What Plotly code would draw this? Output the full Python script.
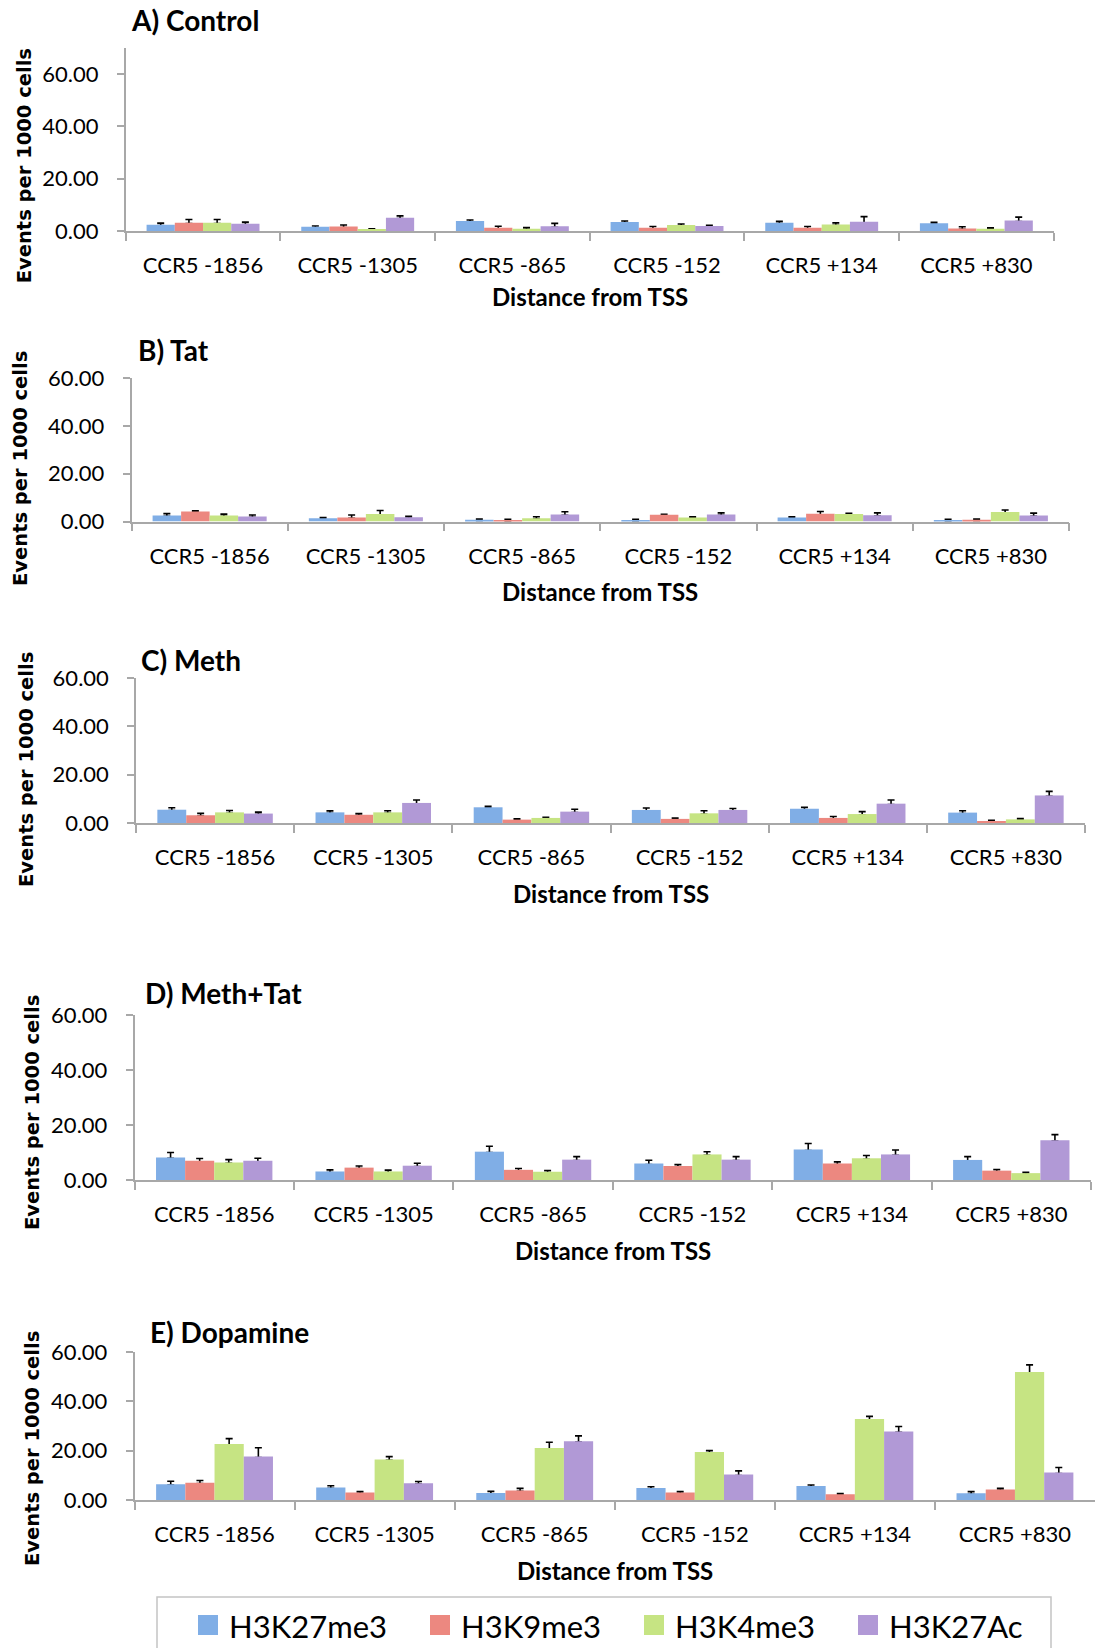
import plotly.graph_objects as go

# ---------------- data ----------------
categories = ["CCR5 -1856", "CCR5 -1305", "CCR5 -865", "CCR5 -152", "CCR5 +134", "CCR5 +830"]
series_names = ["H3K27me3", "H3K9me3", "H3K4me3", "H3K27Ac"]
panel_titles = ["A) Control", "B) Tat", "C) Meth", "D) Meth+Tat", "E) Dopamine"]
y_tick_values = [0, 20, 40, 60]

# values per panel: one list per series (H3K27me3, H3K9me3, H3K4me3, H3K27Ac)
control_values = [
    [2.4, 1.6, 3.8, 3.4, 3.2, 3.0],
    [3.2, 1.7, 1.2, 1.2, 1.2, 1.0],
    [3.2, 0.5, 0.9, 2.3, 2.5, 0.9],
    [2.8, 5.1, 1.8, 1.9, 3.5, 4.0],
]
control_errors = [
    [0.6, 0.3, 0.4, 0.4, 0.5, 0.3],
    [1.2, 0.6, 0.6, 0.5, 0.5, 0.6],
    [1.2, 0.3, 0.4, 0.4, 0.6, 0.3],
    [0.6, 0.7, 1.1, 0.3, 2.0, 1.3],
]
tat_values = [
    [2.5, 1.4, 0.7, 0.6, 1.7, 0.6],
    [4.2, 1.7, 0.6, 2.8, 3.2, 0.7],
    [2.5, 3.1, 1.4, 1.7, 3.1, 4.0],
    [2.1, 1.8, 2.9, 2.9, 2.6, 2.5],
]
tat_errors = [
    [0.8, 0.3, 0.3, 0.3, 0.3, 0.3],
    [0.3, 1.0, 0.3, 0.2, 1.0, 0.3],
    [0.6, 1.5, 0.6, 0.3, 0.3, 0.8],
    [0.6, 0.4, 1.2, 0.7, 1.0, 1.0],
]
meth_values = [
    [5.5, 4.4, 6.5, 5.4, 5.9, 4.3],
    [3.2, 3.4, 1.4, 1.7, 2.1, 0.8],
    [4.4, 4.4, 2.1, 4.0, 3.7, 1.5],
    [3.9, 8.3, 4.7, 5.4, 8.0, 11.4],
]
meth_errors = [
    [0.8, 0.6, 0.4, 0.8, 0.6, 0.8],
    [0.8, 0.5, 0.3, 0.3, 0.6, 0.3],
    [0.8, 0.7, 0.3, 1.1, 1.0, 0.3],
    [0.6, 1.2, 1.0, 0.6, 1.5, 1.7],
]
methtat_values = [
    [8.2, 3.1, 10.3, 6.0, 11.1, 7.3],
    [7.0, 4.5, 3.7, 5.1, 6.0, 3.4],
    [6.4, 3.1, 3.0, 9.3, 7.9, 2.5],
    [7.0, 5.2, 7.4, 7.4, 9.3, 14.5],
]
methtat_errors = [
    [1.8, 0.6, 2.0, 1.2, 2.2, 1.2],
    [0.8, 0.6, 0.5, 0.5, 0.6, 0.4],
    [1.0, 0.5, 0.4, 1.0, 1.0, 0.3],
    [0.9, 0.9, 1.1, 1.1, 1.6, 2.0],
]
dopamine_values = [
    [6.4, 5.1, 2.8, 4.9, 5.7, 2.7],
    [7.0, 3.0, 3.9, 3.0, 2.3, 4.3],
    [22.7, 16.4, 21.1, 19.5, 32.8, 51.9],
    [17.6, 6.8, 23.8, 10.3, 27.8, 11.1],
]
dopamine_errors = [
    [1.2, 0.7, 0.7, 0.5, 0.4, 0.7],
    [0.9, 0.4, 0.8, 0.4, 0.3, 0.4],
    [2.2, 1.2, 2.3, 0.5, 1.1, 2.9],
    [3.6, 0.7, 2.2, 1.5, 2.0, 2.1],
]
y_max = [70, 60, 60, 60, 60]

# ---------------- layout geometry (pixels) ----------------
W, H = 1106, 1648
colors = ["#80AEE6", "#EC8880", "#C6E483", "#B199D6"]
# plot area: left, right, top(value y_max), bottom(value 0)
areas = [
    (125.7, 1053.7, 48, 231),
    (131.5, 1069, 378, 521.5),
    (136, 1085, 678, 823),
    (134.5, 1091, 1015, 1180),
    (134.5, 1095, 1352, 1500),
]
title_pos = [(129, 20), (136, 350), (139, 660), (143, 993), (148, 1332)]
ytitle_pos = [(24.7, 165.6), (21, 469), (27, 770), (32, 1113), (32, 1449)]
xtitle_y = [296.7, 591.7, 893.3, 1250, 1570]

FONT = "Lato, 'Open Sans', sans-serif"
AXIS_COLOR = "#A8A8A8"
# the lower cap of the one-sided error bar is tucked just inside the bar
# (then covered by the bar drawn on top), so only the upper whisker shows
CAP_TUCK = 0.35


def px(x):
    return x / W


def py(y):
    return 1 - y / H


panels_values = [control_values, tat_values, meth_values, methtat_values, dopamine_values]
panels_errors = [control_errors, tat_errors, meth_errors, methtat_errors, dopamine_errors]

fig = go.Figure()
annotations = []
shapes = []
layout_axes = {}

for p in range(5):
    sfx = "" if p == 0 else str(p + 1)
    xa, ya = "x" + sfx, "y" + sfx
    # error whiskers (drawn first, underneath the bars)
    for s in range(4):
        fig.add_trace(go.Bar(
            x=categories,
            y=panels_values[p][s],
            name=series_names[s] + " error",
            offsetgroup=str(s),
            marker=dict(color="rgba(0,0,0,0)", line=dict(width=0)),
            error_y=dict(type="data", array=panels_errors[p][s],
                         arrayminus=[CAP_TUCK] * len(categories), symmetric=False,
                         color="black", thickness=1.6, width=3.5),
            xaxis=xa, yaxis=ya, showlegend=False, hoverinfo="skip",
        ))
    # visible bars
    for s in range(4):
        fig.add_trace(go.Bar(
            x=categories,
            y=panels_values[p][s],
            name=series_names[s],
            offsetgroup=str(s),
            marker=dict(color=colors[s], line=dict(width=0)),
            xaxis=xa, yaxis=ya, showlegend=False,
        ))
    l, r, t, b = areas[p]
    layout_axes["xaxis" + sfx] = dict(
        domain=[px(l), px(r)], anchor=ya, type="category",
        tickson="boundaries", ticks="outside", ticklen=8, tickwidth=1.5,
        tickcolor=AXIS_COLOR, showline=True, linecolor=AXIS_COLOR, linewidth=1.5,
        showgrid=False, zeroline=False, ticklabelstandoff=14,
        tickfont=dict(family=FONT, size=22, color="black"),
        range=[-0.5, 5.5], fixedrange=True,
    )
    layout_axes["yaxis" + sfx] = dict(
        domain=[py(b), py(t)], anchor=xa, range=[0, y_max[p]],
        tickvals=y_tick_values, tickformat=".2f",
        ticks="outside", ticklen=7, tickwidth=1.5, tickcolor=AXIS_COLOR,
        showline=True, linecolor=AXIS_COLOR, linewidth=1.5,
        showgrid=False, zeroline=False, ticklabelstandoff=14,
        tickfont=dict(family=FONT, size=22, color="black"), fixedrange=True,
    )
    annotations.append(dict(
        text="<b>" + panel_titles[p] + "</b>", x=px(title_pos[p][0]), y=py(title_pos[p][1]),
        xref="paper", yref="paper", xanchor="left", yanchor="middle", showarrow=False,
        font=dict(family=FONT, size=28, color="black"),
    ))
    annotations.append(dict(
        text="<b>Events per 1000 cells</b>", x=px(ytitle_pos[p][0]), y=py(ytitle_pos[p][1]),
        xref="paper", yref="paper", xanchor="center", yanchor="middle", showarrow=False,
        textangle=-90, font=dict(family="DejaVu Sans", size=19.5, color="black"),
    ))
    annotations.append(dict(
        text="<b>Distance from TSS</b>", x=px((l + r) / 2), y=py(xtitle_y[p]),
        xref="paper", yref="paper", xanchor="center", yanchor="middle", showarrow=False,
        font=dict(family=FONT, size=24, color="black"),
    ))

# ---------------- legend (box + swatches + labels) ----------------
shapes.append(dict(type="rect", xref="paper", yref="paper",
                   x0=px(157), x1=px(1051), y0=py(1700), y1=py(1597),
                   line=dict(color="#C4C4C4", width=1.5), fillcolor="rgba(0,0,0,0)"))
legend_swatch_x = [198, 430, 644, 858]
for s in range(4):
    x0 = legend_swatch_x[s]
    shapes.append(dict(type="rect", xref="paper", yref="paper",
                       x0=px(x0), x1=px(x0 + 20), y0=py(1635), y1=py(1615),
                       line=dict(width=0), fillcolor=colors[s]))
    annotations.append(dict(
        text=series_names[s], x=px(x0 + 29), y=py(1626),
        xref="paper", yref="paper", xanchor="left", yanchor="middle", showarrow=False,
        font=dict(family=FONT, size=31, color="black"),
    ))

fig.update_layout(
    width=W, height=H, template="none",
    margin=dict(l=0, r=0, t=0, b=0),
    paper_bgcolor="white", plot_bgcolor="white",
    barmode="group", bargap=0.27, bargroupgap=0,
    annotations=annotations, shapes=shapes,
    showlegend=False,
    **layout_axes,
)

fig.write_html("out.html", post_script="document.body.style.margin='0';",
               config={"displayModeBar": False})
